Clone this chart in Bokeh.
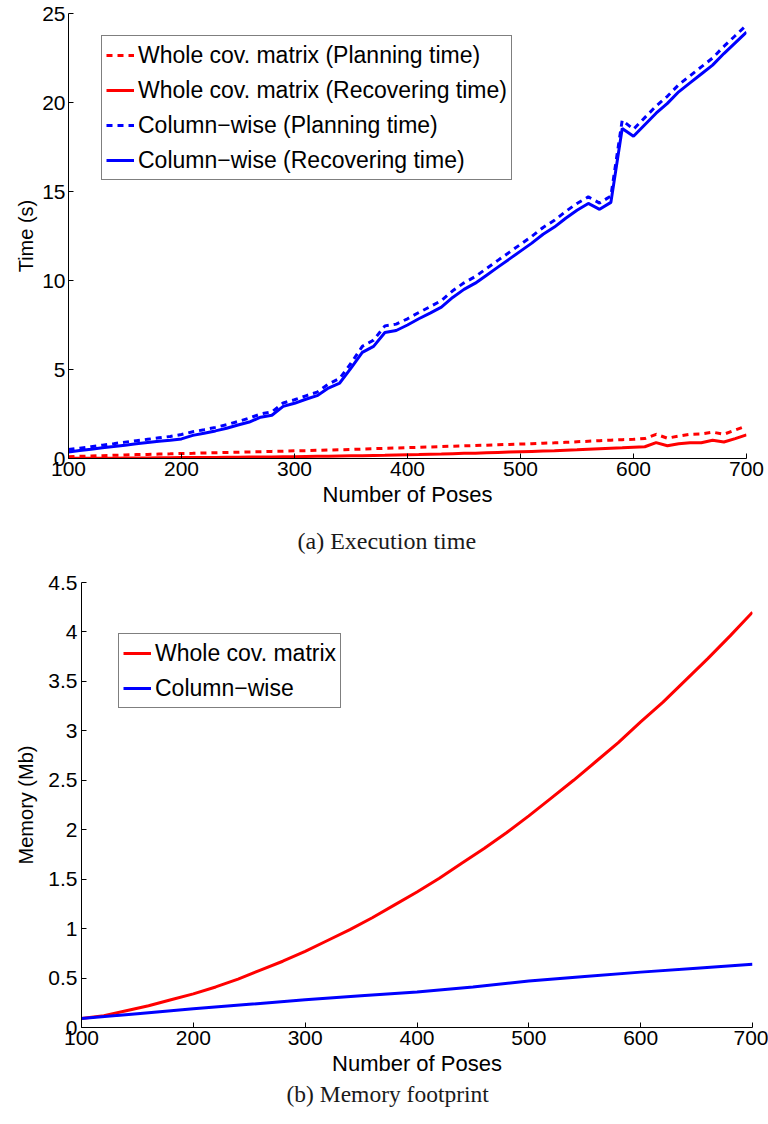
from bokeh.plotting import figure
from bokeh.models import Range1d, Legend, LegendItem, Title, FixedTicker
from bokeh.embed import file_html
from bokeh.resources import INLINE

# ---------------- data: execution time ----------------
poses = list(range(100, 701, 10))

whole_planning = [0.10, 0.12, 0.14, 0.16, 0.18, 0.20, 0.22, 0.23, 0.25, 0.26,
                  0.28, 0.29, 0.31, 0.32, 0.34, 0.35, 0.37, 0.38, 0.40, 0.41,
                  0.43, 0.44, 0.46, 0.48, 0.49, 0.51, 0.53, 0.55, 0.57, 0.59,
                  0.61, 0.63, 0.65, 0.67, 0.69, 0.71, 0.73, 0.75, 0.77, 0.79,
                  0.81, 0.83, 0.86, 0.88, 0.91, 0.94, 0.97, 1.00, 1.03, 1.06,
                  1.08, 1.12, 1.36, 1.14, 1.26, 1.36, 1.38, 1.48, 1.36, 1.60,
                  1.83]
whole_recovering = [0.01, 0.01, 0.02, 0.02, 0.02, 0.03, 0.03, 0.03, 0.04, 0.04,
                    0.05, 0.05, 0.06, 0.06, 0.07, 0.07, 0.08, 0.08, 0.09, 0.10,
                    0.10, 0.11, 0.12, 0.13, 0.14, 0.15, 0.16, 0.17, 0.18, 0.20,
                    0.21, 0.22, 0.24, 0.25, 0.27, 0.29, 0.30, 0.32, 0.34, 0.36,
                    0.38, 0.40, 0.42, 0.44, 0.47, 0.49, 0.52, 0.55, 0.58, 0.60,
                    0.63, 0.66, 0.89, 0.72, 0.83, 0.89, 0.89, 1.02, 0.93, 1.12,
                    1.33]
col_planning = [0.50, 0.58, 0.66, 0.75, 0.83, 0.92, 1.00, 1.08, 1.16, 1.24,
                1.35, 1.50, 1.62, 1.75, 1.90, 2.08, 2.27, 2.50, 2.62, 3.12,
                3.30, 3.52, 3.73, 4.18, 4.50, 5.35, 6.30, 6.65, 7.45, 7.55,
                7.85, 8.20, 8.53, 8.87, 9.42, 9.87, 10.22, 10.68, 11.13, 11.58,
                12.03, 12.48, 12.98, 13.38, 13.88, 14.33, 14.70, 14.35, 14.75, 19.00,
                18.50, 19.15, 19.80, 20.35, 21.00, 21.50, 22.00, 22.50, 23.15, 23.75,
                24.35]
col_recovering = [0.37, 0.45, 0.52, 0.60, 0.67, 0.75, 0.83, 0.90, 0.97, 1.03,
                  1.10, 1.30, 1.42, 1.55, 1.70, 1.88, 2.05, 2.32, 2.43, 2.93,
                  3.10, 3.33, 3.53, 3.96, 4.24, 5.08, 5.96, 6.30, 7.08, 7.19,
                  7.50, 7.85, 8.17, 8.50, 9.05, 9.50, 9.85, 10.30, 10.75, 11.20,
                  11.65, 12.10, 12.60, 13.00, 13.50, 13.95, 14.33, 14.00, 14.39, 18.54,
                  18.10, 18.75, 19.40, 19.95, 20.60, 21.10, 21.60, 22.10, 22.75, 23.35,
                  23.95]

# ---------------- data: memory footprint ----------------
mem_poses_whole = list(range(100, 701, 20))
mem_whole = [0.09, 0.12, 0.17, 0.22, 0.28, 0.34, 0.41, 0.49, 0.58, 0.67,
             0.77, 0.88, 0.99, 1.11, 1.24, 1.37, 1.51, 1.66, 1.81, 1.97,
             2.14, 2.32, 2.50, 2.69, 2.88, 3.09, 3.29, 3.51, 3.73, 3.96,
             4.20]
mem_poses_col = [100, 150, 200, 250, 300, 350, 400, 430, 450, 500, 550, 600, 650, 700]
mem_col = [0.09, 0.14, 0.19, 0.235, 0.28, 0.32, 0.36, 0.39, 0.41, 0.47, 0.515, 0.56, 0.60, 0.64]

x_ticks = [100, 200, 300, 400, 500, 600, 700]
time_ticks = [0, 5, 10, 15, 20, 25]
mem_ticks = [0, 0.5, 1, 1.5, 2, 2.5, 3, 3.5, 4, 4.5]

RED = "#ff0000"
BLUE = "#0000ff"
SANS = "Liberation Sans"
SERIF = "Liberation Serif"
LW = 3


def style(p, xlabel, ylabel, yticks, ytick_standoff, ylab_standoff):
    p.grid.visible = False
    p.outline_line_color = None
    p.xaxis.ticker = FixedTicker(ticks=x_ticks)
    p.yaxis.ticker = FixedTicker(ticks=yticks)
    for ax in (p.xaxis[0], p.yaxis[0]):
        ax.major_tick_in = 5
        ax.major_tick_out = 0
        ax.minor_tick_in = 0
        ax.minor_tick_out = 0
        ax.axis_line_color = "black"
        ax.major_tick_line_color = "black"
        ax.major_label_text_font = SANS
        ax.major_label_text_font_size = "21px"
        ax.major_label_text_color = "black"
        ax.axis_label_text_font = SANS
        ax.axis_label_text_font_style = "normal"
        ax.axis_label_text_color = "black"
    p.xaxis.axis_label = xlabel
    p.yaxis.axis_label = ylabel
    p.xaxis.axis_label_text_font_size = "22px"
    p.yaxis.axis_label_text_font_size = "20px"
    p.xaxis.major_label_standoff = 3
    p.xaxis.axis_label_standoff = 3
    p.yaxis.major_label_standoff = ytick_standoff
    p.yaxis.axis_label_standoff = ylab_standoff


def make_legend(items, loc):
    leg = Legend(items=items, location=loc)
    leg.label_text_font = SANS
    leg.label_text_font_size = "23px"
    leg.label_text_color = "black"
    leg.glyph_width = 28
    leg.glyph_height = 30
    leg.label_height = 30
    leg.label_standoff = 4
    leg.spacing = 5
    leg.padding = 4
    leg.margin = 0
    leg.border_line_color = "black"
    leg.border_line_width = 1
    leg.background_fill_alpha = 1
    return leg


# ---------------- figure 1 ----------------
p1 = figure(width=768, height=569, min_border_left=68, min_border_right=22,
            min_border_top=13, min_border_bottom=110,
            x_range=Range1d(100, 700), y_range=Range1d(0, 25),
            output_backend="svg", toolbar_location=None)
style(p1, "Number of Poses", "Time (s)", time_ticks, 3, 2)

r1 = p1.line(poses, whole_planning, line_color=RED, line_width=LW, line_dash="6 5")
r2 = p1.line(poses, whole_recovering, line_color=RED, line_width=LW)
r3 = p1.line(poses, col_planning, line_color=BLUE, line_width=LW, line_dash="6 5")
r4 = p1.line(poses, col_recovering, line_color=BLUE, line_width=LW)

leg1 = make_legend([
    LegendItem(label="Whole cov. matrix (Planning time)", renderers=[r1]),
    LegendItem(label="Whole cov. matrix (Recovering time)", renderers=[r2]),
    LegendItem(label="Column\u2212wise (Planning time)", renderers=[r3]),
    LegendItem(label="Column\u2212wise (Recovering time)", renderers=[r4]),
], (33, 278))
p1.add_layout(leg1)

cap1 = Title(text="(a) Execution time", align="left", offset=229,
             text_font=SERIF, text_font_size="24px", text_font_style="normal",
             text_color="#1a1a1a", standoff=32)
p1.add_layout(cap1, "below")

# ---------------- figure 2 ----------------
p2 = figure(width=768, height=542, min_border_left=81, min_border_right=16,
            min_border_top=13, min_border_bottom=84,
            x_range=Range1d(100, 700), y_range=Range1d(0, 4.5),
            output_backend="svg", toolbar_location=None)
style(p2, "Number of Poses", "Memory (Mb)", mem_ticks, 4, 8)

s1 = p2.line(mem_poses_whole, mem_whole, line_color=RED, line_width=LW)
s2 = p2.line(mem_poses_col, mem_col, line_color=BLUE, line_width=LW)

leg2 = make_legend([
    LegendItem(label="Whole cov. matrix", renderers=[s1]),
    LegendItem(label="Column\u2212wise", renderers=[s2]),
], (37, 319))
p2.add_layout(leg2)

cap2 = Title(text="(b) Memory footprint", align="left", offset=205,
             text_font=SERIF, text_font_size="23.5px", text_font_style="normal",
             text_color="#1a1a1a", standoff=0)
p2.add_layout(cap2, "below")

# two independent roots, stacked, so that each frame keeps its own margins
open("out.html", "w").write(file_html([p1, p2], INLINE))
